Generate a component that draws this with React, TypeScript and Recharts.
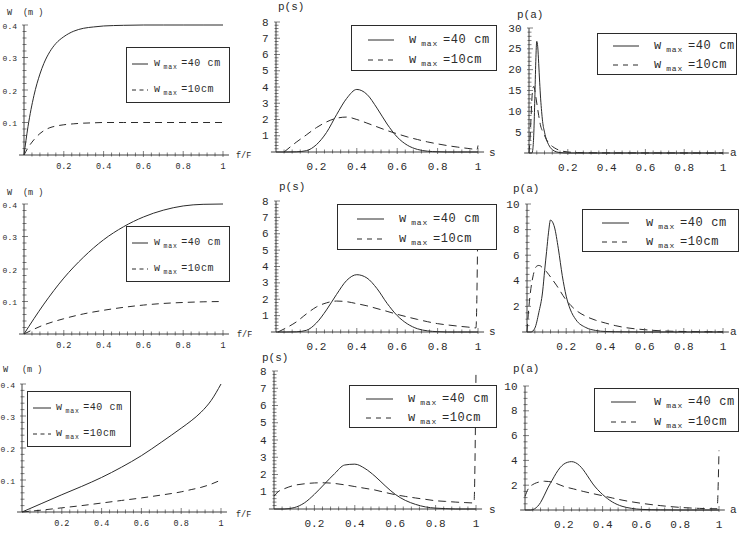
import React from 'react';
import { LineChart, Line, XAxis, YAxis, ReferenceLine, Legend } from 'recharts';

const FONT = '"Liberation Mono", "DejaVu Sans Mono", monospace';
const INK = '#2b2b2b';

// shared axis ticks
const X_MAJOR = [0.2, 0.4, 0.6, 0.8, 1];
const X_LABELS = ['0.2', '0.4', '0.6', '0.8', '1'];
const W_Y_MAJOR = [0.1, 0.2, 0.3, 0.4];
const W_Y_LABELS = ['0.1', '0.2', '0.3', '0.4'];
const S_Y_MAJOR = [1, 2, 3, 4, 5, 6, 7, 8];
const S_Y_LABELS = ['1', '2', '3', '4', '5', '6', '7', '8'];
const A1_Y_MAJOR = [5, 10, 15, 20, 25, 30];
const A1_Y_LABELS = ['5', '10', '15', '20', '25', '30'];
const A_Y_MAJOR = [2, 4, 6, 8, 10];
const A_Y_LABELS = ['2', '4', '6', '8', '10'];

const LEGEND_VALUES = ['=40 cm', '=10cm'];

// row 1, W(f/F)
const W1_X = [0, 0.02, 0.05, 0.08, 0.1, 0.13, 0.16, 0.2, 0.25, 0.3, 0.35, 0.4, 0.5, 0.6, 0.7, 0.8, 0.9, 1];
const W1_SOLID = [0, 0.087, 0.183, 0.249, 0.282, 0.318, 0.343, 0.364, 0.381, 0.39, 0.394, 0.397, 0.399, 0.4, 0.4, 0.4, 0.4, 0.4];
const W1_DASH = [0, 0.022, 0.047, 0.066, 0.075, 0.084, 0.089, 0.093, 0.096, 0.098, 0.099, 0.1, 0.1, 0.1, 0.1, 0.1, 0.1, 0.1];

// row 2, W(f/F)
const W2_X = [0, 0.1, 0.2, 0.3, 0.4, 0.5, 0.6, 0.7, 0.8, 0.9, 1];
const W2_SOLID = [0, 0.092, 0.172, 0.237, 0.29, 0.33, 0.36, 0.381, 0.394, 0.399, 0.4];
const W2_DASH = [0, 0.028, 0.047, 0.062, 0.073, 0.082, 0.089, 0.094, 0.097, 0.099, 0.1];

// row 3, W(f/F)
const W3_X = [0, 0.1, 0.2, 0.3, 0.4, 0.5, 0.6, 0.7, 0.8, 0.85, 0.9, 0.95, 1];
const W3_SOLID = [0, 0.027, 0.054, 0.08, 0.108, 0.14, 0.176, 0.218, 0.262, 0.285, 0.312, 0.348, 0.4];
const W3_DASH = [0, 0.006, 0.013, 0.02, 0.028, 0.036, 0.044, 0.053, 0.063, 0.07, 0.077, 0.087, 0.1];

// p(s)
const S_X = [0, 0.05, 0.1, 0.15, 0.2, 0.25, 0.3, 0.35, 0.4, 0.45, 0.5, 0.55, 0.6, 0.65, 0.7, 0.75, 0.8, 0.85, 0.9, 0.95, 1];
const S1_SOLID = [0, 0, 0.01, 0.08, 0.45, 1.2, 2.3, 3.3, 3.85, 3.55, 2.7, 1.72, 0.92, 0.42, 0.16, 0.05, 0.015, 0, 0, 0, 0];
const S1_DASH_X = [0.04, 0.1, 0.15, 0.2, 0.25, 0.3, 0.35, 0.4, 0.45, 0.5, 0.55, 0.6, 0.65, 0.7, 0.75, 0.8, 0.85, 0.9, 0.95, 0.995, 1];
const S1_DASH = [0, 0.6, 1.05, 1.5, 1.85, 2.08, 2.15, 2.0, 1.78, 1.55, 1.32, 1.12, 0.93, 0.77, 0.62, 0.5, 0.39, 0.3, 0.22, 0.16, 0.4];

const S2_SOLID = [0, 0, 0.01, 0.1, 0.55, 1.35, 2.3, 3.15, 3.5, 3.3, 2.65, 1.75, 1.0, 0.5, 0.2, 0.07, 0.02, 0, 0, 0, 0];
const S2_DASH_X = [0.01, 0.05, 0.1, 0.15, 0.2, 0.25, 0.3, 0.35, 0.4, 0.45, 0.5, 0.55, 0.6, 0.65, 0.7, 0.75, 0.8, 0.85, 0.9, 0.95, 0.99, 1];
const S2_DASH = [0, 0.25, 0.61, 1.1, 1.53, 1.78, 1.89, 1.85, 1.73, 1.6, 1.43, 1.26, 1.08, 0.92, 0.77, 0.63, 0.51, 0.43, 0.36, 0.3, 0.25, 7.8];

const S3_SOLID = [0, 0, 0.08, 0.35, 0.85, 1.45, 2.05, 2.55, 2.6, 2.35, 1.9, 1.35, 0.85, 0.5, 0.27, 0.12, 0.05, 0.02, 0, 0, 0];
const S3_DASH_X = [0, 0.02, 0.05, 0.1, 0.15, 0.2, 0.25, 0.3, 0.35, 0.4, 0.45, 0.5, 0.55, 0.6, 0.65, 0.7, 0.75, 0.8, 0.85, 0.9, 0.95, 0.99, 1];
const S3_DASH = [0.75, 1.0, 1.17, 1.37, 1.46, 1.51, 1.52, 1.48, 1.4, 1.3, 1.2, 1.1, 0.96, 0.83, 0.73, 0.64, 0.56, 0.48, 0.44, 0.4, 0.37, 0.35, 8];

// p(a)
const A1_SOLID_X = [0, 0.015, 0.02, 0.025, 0.03, 0.035, 0.04, 0.045, 0.05, 0.055, 0.06, 0.065, 0.07, 0.08, 0.09, 0.1, 0.11, 0.12, 0.14, 0.16, 0.2, 0.3, 0.5, 1];
const A1_SOLID = [0, 0, 1, 5, 13, 22, 26.8, 25.5, 21.5, 17, 13, 10, 7.6, 5, 3.2, 2.1, 1.3, 0.8, 0.3, 0.1, 0, 0, 0, 0];
const A1_DASH_X = [0, 0.005, 0.01, 0.015, 0.02, 0.025, 0.03, 0.04, 0.05, 0.06, 0.07, 0.08, 0.09, 0.1, 0.12, 0.14, 0.16, 0.2, 0.25, 0.3, 0.4, 1];
const A1_DASH = [0, 3, 8, 13, 15.5, 16, 15, 12, 9, 6.5, 5.2, 4.2, 3.2, 2.5, 1.6, 1, 0.6, 0.25, 0.1, 0.05, 0.02, 0];

const A2_SOLID_X = [0, 0.02, 0.04, 0.06, 0.08, 0.09, 0.1, 0.11, 0.12, 0.13, 0.14, 0.16, 0.18, 0.2, 0.22, 0.25, 0.3, 0.35, 0.4, 0.5, 0.6, 1];
const A2_SOLID = [0, 0, 0.3, 1.5, 3.2, 4.8, 6.3, 7.8, 8.75, 8.6, 8.2, 6.5, 4.4, 2.8, 1.8, 0.95, 0.35, 0.12, 0.04, 0.01, 0, 0];
const A2_DASH_X = [0, 0.01, 0.02, 0.03, 0.04, 0.05, 0.06, 0.07, 0.08, 0.1, 0.12, 0.15, 0.2, 0.25, 0.3, 0.35, 0.4, 0.45, 0.5, 0.6, 0.7, 0.8, 0.9, 1];
const A2_DASH = [0, 2, 3.4, 4.3, 4.9, 5.15, 5.2, 5.15, 5.0, 4.7, 4.3, 3.66, 2.49, 1.7, 1.23, 0.92, 0.7, 0.5, 0.35, 0.18, 0.08, 0.04, 0.02, 0.01];

const A3_SOLID_X = [0, 0.03, 0.05, 0.08, 0.1, 0.12, 0.14, 0.16, 0.18, 0.2, 0.22, 0.24, 0.26, 0.28, 0.3, 0.32, 0.35, 0.4, 0.45, 0.5, 0.55, 0.6, 0.7, 0.8, 1];
const A3_SOLID = [0, 0, 0.1, 0.6, 1.2, 1.85, 2.4, 2.95, 3.4, 3.7, 3.85, 3.9, 3.82, 3.6, 3.25, 2.8, 2.1, 1.25, 0.65, 0.3, 0.13, 0.05, 0.01, 0, 0];
const A3_DASH_X = [0, 0.02, 0.04, 0.06, 0.08, 0.1, 0.12, 0.14, 0.16, 0.2, 0.25, 0.3, 0.35, 0.4, 0.45, 0.5, 0.6, 0.7, 0.8, 0.9, 0.99, 1];
const A3_DASH = [1.1, 1.8, 2.05, 2.2, 2.28, 2.32, 2.3, 2.25, 2.15, 1.9, 1.7, 1.5, 1.32, 1.15, 0.97, 0.8, 0.54, 0.35, 0.21, 0.13, 0.1, 4.8];

type Pt = { x: number; y: number };
const pts = (xs: number[], ys: number[]): Pt[] => xs.map((x, i) => ({ x, y: ys[i] }));

// major ticks plus the small unlabeled ones between them
const withMinor = (step: number, max: number) => {
  const out: number[] = [];
  const n = Math.round(max / step);
  for (let i = 1; i <= n; i++) out.push(Math.round(i * step * 10000) / 10000);
  return out;
};

interface Spec {
  cell: [number, number, number, number];
  plot: [number, number, number, number]; // x0, x1, yBottom, yTop (page px)
  yMax: number;
  yMajor: number[];
  yLabels: string[];
  yStep: number;
  solid: Pt[];
  dashed: Pt[];
  yTitle: [string, number][];
  yTitleY: number;
  xTitle: [string, number, number];
  legend: { box: [number, number, number, number]; sample: [number, number]; textX: number; rows: [number, number] };
  small: boolean;
}

const SMALL = { tick: 8.5, yTick: 8, xDy: 14, yDx: -7, title: 8.5, lFont: 10, lSub: 6.5, gap: 3.5, dash: '7 5', sDash: '4 3.5' };
const LARGE = { tick: 11, yTick: 11, xDy: 18, yDx: -7.5, title: 11, lFont: 12, lSub: 8, gap: 5, dash: '8 5', sDash: '5 5' };

const specs: Spec[] = [
  {
    cell: [0, 0, 252, 180], plot: [24, 223, 155, 25], yMax: 0.4, yMajor: W_Y_MAJOR, yLabels: W_Y_LABELS, yStep: 0.02,
    solid: pts(W1_X, W1_SOLID), dashed: pts(W1_X, W1_DASH),
    yTitle: [['W', 7], ['(m )', 23]], yTitleY: 15, xTitle: ['f/F', 236, 158],
    legend: { box: [126, 47, 104, 56], sample: [5, 21], textX: 27, rows: [16, 42] }, small: true,
  },
  {
    cell: [252, 0, 245, 180], plot: [276, 478, 152, 22], yMax: 8, yMajor: S_Y_MAJOR, yLabels: S_Y_LABELS, yStep: 0.2,
    solid: pts(S_X, S1_SOLID), dashed: pts(S1_DASH_X, S1_DASH),
    yTitle: [['p(s)', 278]], yTitleY: 10, xTitle: ['s', 489, 156],
    legend: { box: [351, 25, 146, 46], sample: [16, 42], textX: 57, rows: [14, 34] }, small: false,
  },
  {
    cell: [497, 0, 242, 180], plot: [529, 723, 153, 28], yMax: 30, yMajor: A1_Y_MAJOR, yLabels: A1_Y_LABELS, yStep: 1,
    solid: pts(A1_SOLID_X, A1_SOLID), dashed: pts(A1_DASH_X, A1_DASH),
    yTitle: [['p(a)', 517]], yTitleY: 18, xTitle: ['a', 730, 156],
    legend: { box: [597, 33, 140, 42], sample: [15, 41], textX: 56, rows: [12, 31] }, small: false,
  },
  {
    cell: [0, 175, 252, 182], plot: [24, 223, 334, 204], yMax: 0.4, yMajor: W_Y_MAJOR, yLabels: W_Y_LABELS, yStep: 0.02,
    solid: pts(W2_X, W2_SOLID), dashed: pts(W2_X, W2_DASH),
    yTitle: [['W', 7], ['(m )', 23]], yTitleY: 195, xTitle: ['f/F', 237, 337],
    legend: { box: [126, 226, 104, 56], sample: [5, 21], textX: 27, rows: [16, 42] }, small: true,
  },
  {
    cell: [252, 175, 245, 182], plot: [276, 478, 332, 201], yMax: 8, yMajor: S_Y_MAJOR, yLabels: S_Y_LABELS, yStep: 0.2,
    solid: pts(S_X, S2_SOLID), dashed: pts(S2_DASH_X, S2_DASH),
    yTitle: [['p(s)', 279]], yTitleY: 190, xTitle: ['s', 489, 335],
    legend: { box: [337, 204, 160, 46], sample: [19, 46], textX: 61, rows: [14, 34] }, small: false,
  },
  {
    cell: [497, 175, 242, 182], plot: [527, 723, 332, 204], yMax: 10, yMajor: A_Y_MAJOR, yLabels: A_Y_LABELS, yStep: 0.5,
    solid: pts(A2_SOLID_X, A2_SOLID), dashed: pts(A2_DASH_X, A2_DASH),
    yTitle: [['p(a)', 513]], yTitleY: 192, xTitle: ['a', 730, 335],
    legend: { box: [582, 209, 157, 43], sample: [19, 46], textX: 63, rows: [13, 32] }, small: false,
  },
  {
    cell: [0, 350, 252, 186], plot: [22, 221, 512, 384], yMax: 0.4, yMajor: W_Y_MAJOR, yLabels: W_Y_LABELS, yStep: 0.02,
    solid: pts(W3_X, W3_SOLID), dashed: pts(W3_X, W3_DASH),
    yTitle: [['W', 3], ['(m )', 22]], yTitleY: 372, xTitle: ['f/F', 236, 517],
    legend: { box: [27, 391, 104, 56], sample: [5, 23], textX: 28, rows: [16, 42] }, small: true,
  },
  {
    cell: [252, 350, 245, 186], plot: [274, 476, 509, 371], yMax: 8, yMajor: S_Y_MAJOR, yLabels: S_Y_LABELS, yStep: 0.2,
    solid: pts(S_X, S3_SOLID), dashed: pts(S3_DASH_X, S3_DASH),
    yTitle: [['p(s)', 262]], yTitleY: 361, xTitle: ['s', 489, 513],
    legend: { box: [349, 385, 148, 43], sample: [16, 43], textX: 58, rows: [13, 32] }, small: false,
  },
  {
    cell: [497, 350, 242, 186], plot: [525, 719, 510, 386], yMax: 10, yMajor: A_Y_MAJOR, yLabels: A_Y_LABELS, yStep: 0.5,
    solid: pts(A3_SOLID_X, A3_SOLID), dashed: pts(A3_DASH_X, A3_DASH),
    yTitle: [['p(a)', 513]], yTitleY: 372, xTitle: ['a', 730, 513],
    legend: { box: [594, 388, 145, 44], sample: [16, 41], textX: 59, rows: [13, 33] }, small: false,
  },
];

const majorIndex = (list: number[], v: number) => list.findIndex((m) => Math.abs(m - v) < 1e-6);

const Panel: React.FC<{ spec: Spec }> = ({ spec }) => {
  const [L, T, W, H] = spec.cell;
  const [x0, x1, yB, yT] = spec.plot;
  const st = spec.small ? SMALL : LARGE;
  const xTicks = withMinor(0.04, 1);
  const yTicks = withMinor(spec.yStep, spec.yMax);
  const lg = spec.legend;

  // eslint-disable-next-line @typescript-eslint/no-explicit-any
  const xTick = (p: any) => {
    const idx = majorIndex(X_MAJOR, p.payload.value);
    const major = idx >= 0;
    return (
      <g>
        <line x1={p.x} x2={p.x} y1={p.y + (major ? 2 : 1.5)} y2={p.y - (major ? 4 : 2.5)} stroke={INK} strokeWidth={0.6} />
        {major && (
          <text x={p.x} y={p.y + st.xDy} textAnchor="middle" fontFamily={FONT} fontSize={st.tick} fill={INK}>
            {X_LABELS[idx]}
          </text>
        )}
      </g>
    );
  };

  // eslint-disable-next-line @typescript-eslint/no-explicit-any
  const yTick = (p: any) => {
    const idx = majorIndex(spec.yMajor, p.payload.value);
    const major = idx >= 0;
    return (
      <g>
        <line x1={p.x - (major ? 2 : 1.5)} x2={p.x + (major ? 4 : 2.5)} y1={p.y} y2={p.y} stroke={INK} strokeWidth={0.6} />
        {major && (
          <text x={p.x + st.yDx} y={p.y + 3.5} textAnchor="end" fontFamily={FONT} fontSize={st.yTick} fill={INK}>
            {spec.yLabels[idx]}
          </text>
        )}
      </g>
    );
  };

  // eslint-disable-next-line @typescript-eslint/no-explicit-any
  const legendContent = (props: any) => {
    const entries = props.payload || [];
    return (
      <div
        style={{
          position: 'relative', width: lg.box[2], height: lg.box[3], boxSizing: 'border-box',
          border: `1px solid ${INK}`, background: '#fff', fontFamily: FONT, color: INK,
        }}
      >
        {/* eslint-disable-next-line @typescript-eslint/no-explicit-any */}
        {entries.map((e: any, i: number) => (
          <div key={i} style={{ position: 'absolute', left: 0, right: 0, top: lg.rows[i] - 8, height: 16 }}>
            <svg width={lg.sample[1] - lg.sample[0]} height={16} style={{ position: 'absolute', left: lg.sample[0], top: 0 }}>
              <line
                x1={0} x2={lg.sample[1] - lg.sample[0]} y1={8} y2={8}
                stroke={e.color || INK} strokeWidth={1}
                strokeDasharray={i === 1 ? st.sDash : undefined}
              />
            </svg>
            <span style={{ position: 'absolute', left: lg.textX, top: 0, lineHeight: '16px', fontSize: st.lFont, whiteSpace: 'pre' }}>
              w
              <span style={{ fontSize: st.lSub, marginLeft: st.gap, position: 'relative', top: 3, letterSpacing: 0.8 }}>max</span>
              <span style={{ marginLeft: st.gap, letterSpacing: 0.6 }}>{LEGEND_VALUES[i]}</span>
            </span>
          </div>
        ))}
      </div>
    );
  };

  // axes need a non-zero size to draw their ticks, so they take 1px from the margins
  return (
    <div style={{ position: 'absolute', left: L, top: T, width: W, height: H }}>
      <LineChart
        width={W}
        height={H}
        margin={{ left: x0 - L - 1, right: L + W - x1, top: yT - T, bottom: T + H - yB - 1 }}
      >
        <XAxis
          type="number" dataKey="x" domain={[0, 1]} ticks={xTicks} interval={0} height={1}
          axisLine={false} tickLine={false} tickSize={0} tickMargin={0} tick={xTick}
        />
        <YAxis
          type="number" dataKey="y" domain={[0, spec.yMax]} ticks={yTicks} interval={0} width={1}
          axisLine={false} tickLine={false} tickSize={0} tickMargin={0} tick={yTick}
        />
        <ReferenceLine segment={[{ x: -0.025, y: 0 }, { x: 1.03, y: 0 }]} ifOverflow="visible" stroke={INK} strokeWidth={0.9} />
        <ReferenceLine segment={[{ x: 0, y: 0 }, { x: 0, y: spec.yMax }]} ifOverflow="visible" stroke={INK} strokeWidth={0.9} />
        <Line
          data={spec.solid} dataKey="y" name="w max =40 cm" type="monotone"
          stroke={INK} strokeWidth={1} dot={false} activeDot={false} isAnimationActive={false}
        />
        <Line
          data={spec.dashed} dataKey="y" name="w max =10cm" type="monotone"
          stroke={INK} strokeWidth={1} strokeDasharray={st.dash} dot={false} activeDot={false} isAnimationActive={false}
        />
        <Legend
          layout="vertical" verticalAlign="middle" align="center"
          width={lg.box[2]} height={lg.box[3]}
          wrapperStyle={{ position: 'absolute', left: lg.box[0] - L, top: lg.box[1] - T, width: lg.box[2], height: lg.box[3] }}
          content={legendContent}
        />
        <text y={spec.yTitleY - T} fontFamily={FONT} fontSize={st.title} fill={INK}>
          {spec.yTitle.map(([s, x], i) => (
            <tspan key={i} x={x - L}>{s}</tspan>
          ))}
        </text>
        <text x={spec.xTitle[1] - L} y={spec.xTitle[2] - T} fontFamily={FONT} fontSize={st.title} fill={INK}>
          {spec.xTitle[0]}
        </text>
      </LineChart>
    </div>
  );
};

export default function App() {
  return (
    <div style={{ position: 'absolute', left: 0, top: 0, width: 739, height: 536, background: '#fff', overflow: 'hidden' }}>
      {specs.map((s, i) => (
        <Panel key={i} spec={s} />
      ))}
    </div>
  );
}
